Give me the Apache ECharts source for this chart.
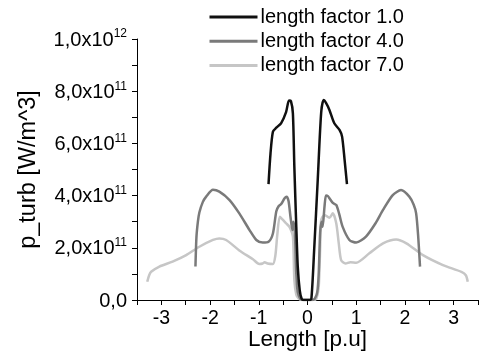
<!DOCTYPE html>
<html>
<head>
<meta charset="utf-8">
<script src="https://cdn.jsdelivr.net/npm/echarts@6/dist/echarts.min.js"></script>
<style>
html,body{margin:0;padding:0;background:#fff;}
#chart{width:483px;height:351px;}
</style>
</head>
<body>
<div id="chart"></div>
<script>
// Data (y values in units of 1e11 W/m^3)
var seriesNames = ['length factor 1.0', 'length factor 4.0', 'length factor 7.0'];
var xTicks = [-3, -2, -1, 0, 1, 2, 3];
var yTickLabels = ['0,0', '2,0x10^11', '4,0x10^11', '6,0x10^11', '8,0x10^11', '1,0x10^12'];

var len1X = [-0.80,-0.76,-0.71,-0.64,-0.54,-0.44,-0.38,-0.34,-0.30,-0.27,-0.23,-0.20,-0.16,-0.12,-0.08,-0.04,0,0.04,0.08,0.14,0.21,0.28,0.33,0.38,0.45,0.55,0.66,0.71,0.76,0.81];
var len1Y = [4.44,5.6,6.45,6.6,6.78,7.2,7.64,7.62,7.15,5.1,2.8,1.28,0.38,0.05,0,0,0,0,0.05,2.04,4.6,7.16,7.66,7.55,7.28,6.77,6.51,6.26,5.4,4.44];

var len4X = [-2.30,-2.28,-2.25,-2.22,-2.15,-2.08,-1.94,-1.81,-1.60,-1.40,-1.19,-1.05,-0.92,-0.80,-0.71,-0.64,-0.59,-0.54,-0.47,-0.43,-0.39,-0.35,-0.31,-0.29,-0.26,-0.23,-0.20,-0.15,-0.10,0,0.10,0.15,0.20,0.23,0.26,0.29,0.31,0.35,0.38,0.42,0.45,0.52,0.59,0.65,0.72,0.86,1.0,1.2,1.4,1.55,1.75,1.92,2.09,2.18,2.23,2.27,2.31];
var len4Y = [1.28,2.4,3.0,3.35,3.75,3.96,4.22,4.15,3.83,3.32,2.68,2.3,2.2,2.23,2.55,3.4,3.6,3.68,3.9,3.96,3.8,3.2,2.68,3.0,2.6,1.0,0.3,0.05,0,0,0,0.05,0.3,1.0,2.6,3.0,2.8,3.6,4.0,3.98,3.9,3.72,3.64,3.3,2.81,2.3,2.2,2.43,2.95,3.45,4.02,4.21,3.96,3.65,3.32,2.5,1.28];

var len7X = [-3.29,-3.25,-3.21,-3.04,-2.77,-2.49,-2.22,-1.94,-1.81,-1.67,-1.40,-1.12,-0.99,-0.92,-0.88,-0.82,-0.71,-0.66,-0.62,-0.57,-0.52,-0.44,-0.37,-0.30,-0.27,-0.23,-0.18,-0.12,0,0.12,0.18,0.23,0.26,0.28,0.35,0.45,0.52,0.59,0.64,0.69,0.78,0.88,1.0,1.27,1.55,1.82,2.03,2.37,2.78,3.16,3.25,3.29];
var len7Y = [0.7,0.95,1.08,1.28,1.47,1.72,2.04,2.3,2.36,2.3,1.9,1.56,1.38,1.4,1.45,1.4,1.38,1.7,2.5,3.19,3.1,2.94,2.8,2.43,0.77,0.2,0.05,0,0,0,0.05,0.5,2.0,3.06,3.26,3.15,3.32,2.94,2.2,1.53,1.4,1.45,1.43,1.79,2.17,2.32,2.17,1.72,1.34,1.08,0.95,0.7];

var colors = ['#101010', '#7a7a7a', '#c6c6c6'];

function pairs(xs, ys) {
  return xs.map(function (x, i) { return [x, ys[i] * 1e11]; });
}

function yFmt(v) {
  var idx = Math.round(v / 2e11);
  var t = yTickLabels[idx];
  if (t === undefined) return '';
  var parts = t.split('^');
  if (parts.length === 1) return '{b|' + parts[0] + '}';
  return '{b|' + parts[0] + '}{s|' + parts[1] + '}';
}

var font = 'Liberation Sans, Arial, sans-serif';
var chart = echarts.init(document.getElementById('chart'), null, {renderer: 'canvas'});
chart.setOption({
  animation: false,
  backgroundColor: '#fff',
  textStyle: {fontFamily: font},
  legend: {
    orient: 'vertical',
    left: 208,
    top: 7,
    padding: 0,
    itemWidth: 48,
    itemHeight: 20,
    itemGap: 4.3,
    itemStyle: {opacity: 0},
    lineStyle: {width: 3},
    textStyle: {fontSize: 20, color: '#000', fontFamily: font, padding: [0, 0, 0, -2]},
    data: seriesNames
  },
  grid: {left: 137, right: 5, top: 39, bottom: 51, containLabel: false, outerBoundsMode: 'none'},
  xAxis: {
    type: 'value',
    min: -3.5, max: 3.5,
    interval: 0.5,
    name: 'Length [p.u]',
    nameLocation: 'middle',
    nameGap: 28,
    nameMoveOverlap: false,
    nameTextStyle: {fontSize: 22.5, color: '#000', fontFamily: font},
    axisLine: {show: true, onZero: false, lineStyle: {color: '#000', width: 1}},
    axisTick: {show: true, length: 5, inside: false, lineStyle: {color: '#000'}},
    minorTick: {show: false},
    axisLabel: {
      fontSize: 19.5, color: '#000', margin: 9, fontFamily: font,
      formatter: function (v) {
        return xTicks.indexOf(v) >= 0 ? String(v) : '';
      }
    },
    splitLine: {show: false}
  },
  yAxis: {
    type: 'value',
    min: 0, max: 1e12,
    interval: 1e11,
    name: 'p_turb [W/m^3]',
    nameLocation: 'middle',
    nameGap: 96,
    nameMoveOverlap: false,
    nameTextStyle: {fontSize: 23.5, color: '#000', fontFamily: font},
    axisLine: {show: true, onZero: false, lineStyle: {color: '#000', width: 1}},
    axisTick: {show: true, length: 5, inside: false, lineStyle: {color: '#000'}},
    axisLabel: {
      margin: 10,
      color: '#000',
      formatter: function (v) {
        if (Math.round(v / 1e11) % 2 !== 0) return '';
        return yFmt(v);
      },
      rich: {
        b: {fontSize: 20, fontFamily: font, color: '#000', lineHeight: 22, verticalAlign: 'bottom'},
        s: {fontSize: 12, fontFamily: font, color: '#000', lineHeight: 22, verticalAlign: 'top', padding: [0, 0, 8, 0]}
      }
    },
    splitLine: {show: false}
  },
  series: [
    {name: seriesNames[0], type: 'line', data: pairs(len1X, len1Y), symbol: 'none', smooth: 0.25, color: colors[0], lineStyle: {width: 2.5, color: colors[0]}, z: 4},
    {name: seriesNames[1], type: 'line', data: pairs(len4X, len4Y), symbol: 'none', smooth: 0.25, color: colors[1], lineStyle: {width: 2.5, color: colors[1]}, z: 3},
    {name: seriesNames[2], type: 'line', data: pairs(len7X, len7Y), symbol: 'none', smooth: 0.25, color: colors[2], lineStyle: {width: 2.5, color: colors[2]}, z: 2}
  ]
});
</script>
</body>
</html>
